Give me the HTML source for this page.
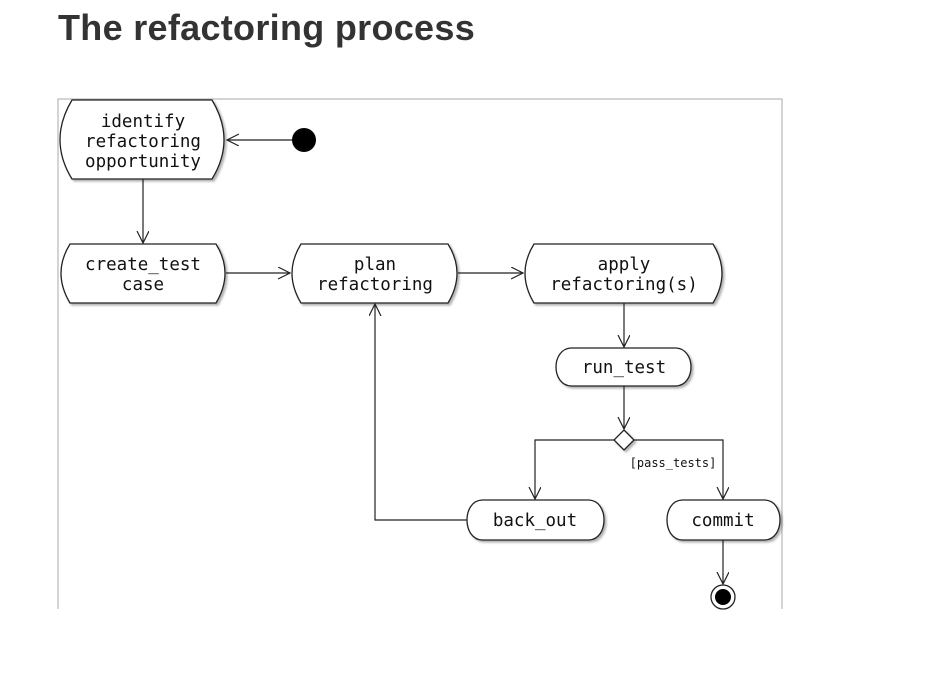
<!DOCTYPE html>
<html><head><style>
body{margin:0;background:#fff;width:930px;height:685px;overflow:hidden}
h1{position:absolute;left:58px;top:7px;margin:0;font:bold 36px "Liberation Sans",sans-serif;color:#333;letter-spacing:0.3px}
svg{position:absolute;left:0;top:0}
text{font-family:"DejaVu Sans Mono","Liberation Mono",monospace;font-size:17.5px;fill:#111;text-anchor:middle}
</style></head><body>
<h1>The refactoring process</h1>
<svg width="930" height="685">
<defs><marker id="a" markerWidth="14" markerHeight="14" refX="12" refY="6" orient="auto" markerUnits="userSpaceOnUse"><path d="M0,0 L12,6 L0,12" fill="none" stroke="#222" stroke-width="1.2"/></marker>
<filter id="s"><feDropShadow dx="2" dy="2" stdDeviation="1" flood-opacity="0.3"/></filter></defs>
<path d="M58,609 V99 H782 V609" fill="none" stroke="#aaa" stroke-width="1"/>
<g fill="#fff" stroke="#222" stroke-width="1.3" filter="url(#s)">
<path d="M72,100 H212 Q236,140 212,179 H72 Q48,140 72,100Z"/>
<path d="M70,244 H216 Q234,273 216,303 H70 Q52,273 70,244Z"/>
<path d="M301,244 H448 Q466,273 448,303 H301 Q283,273 301,244Z"/>
<path d="M534,244 H713 Q731,273 713,303 H534 Q516,273 534,244Z"/>
<path d="M571,348 H676 C696,349 696,385 676,386 H571 C551,385 551,349 571,348Z"/>
<path d="M482,500 H589 C609,501 609,539 589,540 H482 C462,539 462,501 482,500Z"/>
<path d="M682,500 H765 C785,501 785,539 765,540 H682 C662,539 662,501 682,500Z"/>
<path d="M624,430 L634,440 L624,450 L614,440Z"/>
</g>
<circle cx="304" cy="140" r="12" fill="#000"/>
<circle cx="723" cy="597" r="12" fill="#fff" stroke="#222" stroke-width="1.3"/>
<circle cx="723" cy="597" r="8" fill="#000"/>
<g stroke="#222" stroke-width="1.2" fill="none">
<line x1="292" y1="140" x2="227" y2="140" marker-end="url(#a)"/>
<line x1="143" y1="179" x2="143" y2="243" marker-end="url(#a)"/>
<line x1="226" y1="273" x2="290" y2="273" marker-end="url(#a)"/>
<line x1="458" y1="273" x2="523" y2="273" marker-end="url(#a)"/>
<line x1="624" y1="303" x2="624" y2="347" marker-end="url(#a)"/>
<line x1="624" y1="386" x2="624" y2="429" marker-end="url(#a)"/>
<polyline points="614,440 535,440 535,499" marker-end="url(#a)"/>
<polyline points="634,440 723,440 723,499" marker-end="url(#a)"/>
<line x1="723" y1="540" x2="723" y2="584" marker-end="url(#a)"/>
<polyline points="467,520 375,520 375,304" marker-end="url(#a)"/>
</g>
<text x="143" y="127">identify</text>
<text x="143" y="147">refactoring</text>
<text x="143" y="167">opportunity</text>
<text x="143" y="270">create_test</text>
<text x="143" y="290">case</text>
<text x="375" y="270">plan</text>
<text x="375" y="290">refactoring</text>
<text x="624" y="270">apply</text>
<text x="624" y="290">refactoring(s)</text>
<text x="624" y="373">run_test</text>
<text x="535" y="526">back_out</text>
<text x="723" y="526">commit</text>
<text x="673" y="467" style="font-size:12px">[pass_tests]</text>
</svg>
</body></html>
